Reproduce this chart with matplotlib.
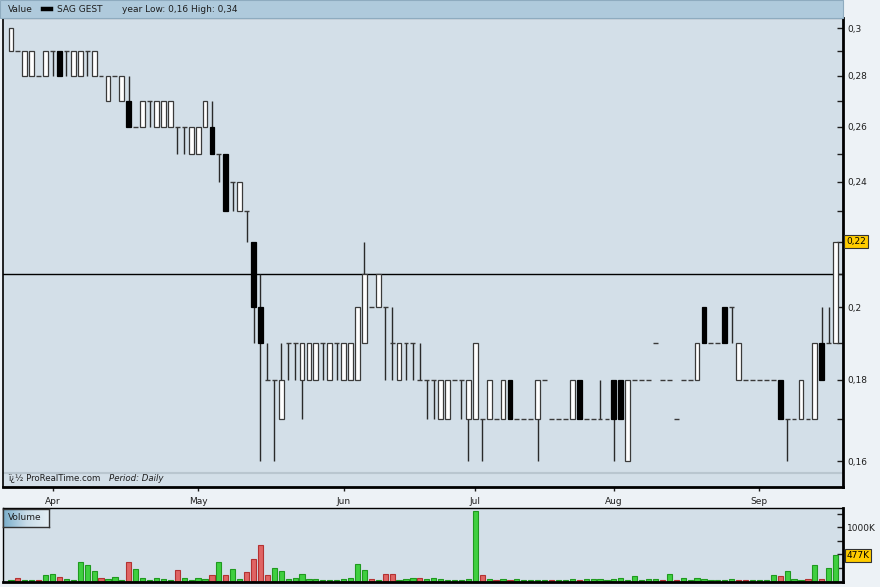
import numpy as np
import matplotlib.pyplot as plt
from matplotlib.patches import Rectangle
from matplotlib.lines import Line2D
from matplotlib.colors import LinearSegmentedColormap
import matplotlib.transforms as mtransforms

plt.rcParams['font.family'] = ['DejaVu Sans']

# daily candles, one row per session (open, high, low, close)
opens = [0.29, 0.29, 0.28, 0.28, 0.28, 0.28, 0.29, 0.29, 0.29, 0.28,
         0.28, 0.29, 0.28, 0.28, 0.27, 0.28, 0.27, 0.27, 0.26, 0.26,
         0.27, 0.26, 0.26, 0.26, 0.26, 0.26, 0.25, 0.25, 0.26, 0.26,
         0.25, 0.25, 0.24, 0.23, 0.23, 0.22, 0.20, 0.18, 0.18, 0.17,
         0.19, 0.19, 0.18, 0.18, 0.18, 0.19, 0.18, 0.19, 0.18, 0.18,
         0.18, 0.19, 0.20, 0.20, 0.20, 0.19, 0.18, 0.19, 0.19, 0.18,
         0.18, 0.18, 0.17, 0.17, 0.18, 0.18, 0.17, 0.17, 0.17, 0.17,
         0.17, 0.17, 0.18, 0.17, 0.17, 0.17, 0.17, 0.18, 0.17, 0.17,
         0.17, 0.17, 0.18, 0.17, 0.17, 0.17, 0.17, 0.18, 0.18, 0.16,
         0.18, 0.18, 0.18, 0.19, 0.18, 0.18, 0.17, 0.18, 0.18, 0.18,
         0.20, 0.19, 0.19, 0.20, 0.20, 0.18, 0.18, 0.18, 0.18, 0.18,
         0.18, 0.18, 0.17, 0.17, 0.17, 0.17, 0.17, 0.19, 0.19, 0.19]
highs = [0.30, 0.29, 0.29, 0.29, 0.28, 0.29, 0.29, 0.29, 0.29, 0.29,
         0.29, 0.29, 0.29, 0.28, 0.28, 0.28, 0.28, 0.28, 0.26, 0.27,
         0.27, 0.27, 0.27, 0.27, 0.26, 0.26, 0.26, 0.26, 0.27, 0.27,
         0.25, 0.25, 0.24, 0.24, 0.23, 0.22, 0.21, 0.19, 0.18, 0.19,
         0.19, 0.19, 0.19, 0.19, 0.19, 0.19, 0.19, 0.19, 0.19, 0.19,
         0.20, 0.22, 0.20, 0.21, 0.20, 0.20, 0.19, 0.19, 0.19, 0.19,
         0.18, 0.18, 0.18, 0.18, 0.18, 0.18, 0.18, 0.19, 0.17, 0.18,
         0.17, 0.18, 0.18, 0.17, 0.17, 0.17, 0.18, 0.18, 0.17, 0.17,
         0.17, 0.18, 0.18, 0.17, 0.17, 0.18, 0.17, 0.18, 0.18, 0.18,
         0.18, 0.18, 0.18, 0.19, 0.18, 0.18, 0.17, 0.18, 0.18, 0.19,
         0.20, 0.19, 0.19, 0.20, 0.20, 0.19, 0.18, 0.18, 0.18, 0.18,
         0.18, 0.18, 0.17, 0.17, 0.18, 0.17, 0.19, 0.20, 0.20, 0.22]
lows = [0.29, 0.29, 0.28, 0.28, 0.28, 0.28, 0.28, 0.28, 0.28, 0.28,
        0.28, 0.28, 0.28, 0.28, 0.27, 0.28, 0.27, 0.26, 0.26, 0.26,
        0.26, 0.26, 0.26, 0.26, 0.25, 0.25, 0.25, 0.25, 0.26, 0.25,
        0.24, 0.23, 0.23, 0.23, 0.22, 0.19, 0.16, 0.18, 0.16, 0.17,
        0.18, 0.18, 0.17, 0.18, 0.18, 0.18, 0.18, 0.18, 0.18, 0.18,
        0.18, 0.19, 0.20, 0.20, 0.18, 0.18, 0.18, 0.18, 0.18, 0.18,
        0.17, 0.17, 0.17, 0.17, 0.18, 0.17, 0.16, 0.17, 0.16, 0.17,
        0.17, 0.17, 0.17, 0.17, 0.17, 0.17, 0.16, 0.18, 0.17, 0.17,
        0.17, 0.17, 0.17, 0.17, 0.17, 0.17, 0.17, 0.16, 0.17, 0.16,
        0.18, 0.18, 0.18, 0.19, 0.18, 0.18, 0.17, 0.18, 0.18, 0.18,
        0.19, 0.19, 0.19, 0.19, 0.19, 0.18, 0.18, 0.18, 0.18, 0.18,
        0.18, 0.17, 0.16, 0.17, 0.17, 0.17, 0.17, 0.18, 0.19, 0.19]
closes = [0.30, 0.29, 0.29, 0.29, 0.28, 0.29, 0.29, 0.28, 0.29, 0.29,
          0.29, 0.29, 0.29, 0.28, 0.28, 0.28, 0.28, 0.26, 0.26, 0.27,
          0.27, 0.27, 0.27, 0.27, 0.26, 0.26, 0.26, 0.26, 0.27, 0.25,
          0.25, 0.23, 0.24, 0.24, 0.23, 0.20, 0.19, 0.18, 0.18, 0.18,
          0.19, 0.19, 0.19, 0.19, 0.19, 0.19, 0.19, 0.19, 0.19, 0.19,
          0.20, 0.21, 0.20, 0.21, 0.20, 0.19, 0.19, 0.19, 0.19, 0.18,
          0.18, 0.18, 0.18, 0.18, 0.18, 0.18, 0.18, 0.19, 0.17, 0.18,
          0.17, 0.18, 0.17, 0.17, 0.17, 0.17, 0.18, 0.18, 0.17, 0.17,
          0.17, 0.18, 0.17, 0.17, 0.17, 0.17, 0.17, 0.17, 0.17, 0.18,
          0.18, 0.18, 0.18, 0.19, 0.18, 0.18, 0.17, 0.18, 0.18, 0.19,
          0.19, 0.19, 0.19, 0.19, 0.20, 0.19, 0.18, 0.18, 0.18, 0.18,
          0.18, 0.17, 0.17, 0.17, 0.18, 0.17, 0.19, 0.18, 0.19, 0.22]
# volume in thousands of shares
volumes = [20, 55, 30, 20, 20, 123, 142, 86, 50, 20,
           358, 302, 197, 55, 37, 74, 20, 358, 222, 55,
           20, 55, 37, 20, 204, 55, 20, 55, 37, 123,
           358, 123, 234, 37, 167, 420, 666, 123, 253, 185,
           37, 55, 142, 37, 37, 20, 20, 20, 37, 55,
           327, 204, 37, 20, 142, 142, 20, 37, 55, 55,
           37, 55, 37, 20, 20, 20, 50, 1296, 123, 50,
           20, 37, 20, 37, 20, 20, 20, 20, 20, 20,
           20, 37, 20, 37, 37, 37, 20, 37, 68, 20,
           105, 20, 37, 50, 20, 142, 20, 68, 20, 68,
           50, 20, 20, 20, 37, 20, 20, 20, 20, 20,
           123, 105, 185, 50, 20, 50, 302, 37, 253, 477]

month_labels = ['Apr', 'May', 'Jun', 'Jul', 'Aug', 'Sep']
month_pos = [6, 27, 48, 67, 87, 108]
price_ticks = [0.16, 0.17, 0.18, 0.19, 0.20, 0.21, 0.22, 0.23, 0.24,
               0.25, 0.26, 0.27, 0.28, 0.29, 0.30]
price_labels = {0.16: '0,16', 0.18: '0,18', 0.20: '0,2', 0.24: '0,24',
                0.26: '0,26', 0.28: '0,28', 0.30: '0,3'}
vol_ticks = [250, 500, 750, 1000, 1250]
ref_line = 0.21
last_price = 0.22
last_volume = 477

W, H = 880, 587
def fx(px):
    return px / W
def fy(py):
    return 1 - py / H

fig = plt.figure(figsize=(8.8, 5.87), dpi=100, facecolor='#edf2f6')
panel_bg = '#d3dfe8'

# header strip
fig.patches.append(Rectangle((0, fy(18)), fx(843), 18 / H, transform=fig.transFigure,
                             facecolor='#afcadc', edgecolor='#8eabbf', lw=0.8, zorder=0))
fig.text(fx(8), fy(9), 'Value', fontsize=6.5, va='center', color='#1e1e1e')
fig.add_artist(Line2D([fx(43), fx(51)], [fy(9), fy(9)], lw=3.2, color='black'))
fig.text(fx(57), fy(9), 'SAG GEST', fontsize=6.5, va='center', color='#1e1e1e')
fig.text(fx(122), fy(9), 'year Low: 0,16 High: 0,34', fontsize=6.5, va='center', color='#1e1e1e')

x = np.arange(len(opens))
o = np.array(opens); h = np.array(highs); l = np.array(lows); c = np.array(closes)

# ---- price panel
ax = fig.add_axes([fx(3), fy(487), fx(843) - fx(3), (487 - 18) / H])
ax.set_facecolor(panel_bg)
ax.set_yscale('log')
ax.set_xlim(-1.15, 120.06)
ax.set_ylim(0.1541, 0.3044)

ax.axhline(ref_line, color='black', lw=1, zorder=1)
ax.vlines(x, l, h, colors='#2a2a2a', lw=1, zorder=2)
body_w = 0.7
up = c > o
down = c < o
flat = c == o
ax.bar(x[up], c[up] - o[up], bottom=o[up], width=body_w, color='white',
       edgecolor='#3a3a3a', lw=0.9, zorder=3)
ax.bar(x[down], o[down] - c[down], bottom=c[down], width=body_w, color='black',
       edgecolor='black', lw=0.9, zorder=3)
ax.hlines(o[flat], x[flat] - body_w / 2, x[flat] + body_w / 2, colors='#3a3a3a', lw=1, zorder=3)

ax.plot([0, 1], [0.03, 0.03], transform=ax.transAxes, color='#b9c6cf', lw=1.5)
ax.text(0.006, 0.013, 'ï¿½ ProRealTime.com', transform=ax.transAxes, fontsize=6.2, color='#1e1e1e')
ax.text(0.1265, 0.013, 'Period: Daily', transform=ax.transAxes, fontsize=6.2,
        style='italic', color='#1e1e1e')

ax.yaxis.tick_right()
ax.set_yticks(price_ticks)
ax.set_yticklabels([price_labels.get(round(t, 2), '') for t in price_ticks])
ax.yaxis.set_minor_locator(plt.NullLocator())
ax.tick_params(axis='y', direction='in', length=4, width=1, pad=3, labelsize=6.5, colors='#1e1e1e')
ax.set_xticks(month_pos)
ax.set_xticklabels(month_labels)
ax.tick_params(axis='x', direction='out', length=3, width=1, pad=4, labelsize=6.5, colors='#1e1e1e')
for side, lw in [('right', 2), ('bottom', 2), ('left', 1.2), ('top', 0.8)]:
    ax.spines[side].set_linewidth(lw)
    ax.spines[side].set_color('black')

tr = mtransforms.blended_transform_factory(ax.transAxes, ax.transData)
ax.text(1.004, last_price, '0,22', transform=tr, fontsize=6.5, va='center', ha='left',
        bbox=dict(boxstyle='square,pad=0.25', fc='#ffcc00', ec='#333333', lw=0.8))

# ---- volume panel
vax = fig.add_axes([fx(3), fy(582), fx(843) - fx(3), (582 - 508) / H])
vax.set_facecolor(panel_bg)
vax.set_xlim(ax.get_xlim())
vax.set_ylim(-12, 1352)
prev = np.concatenate([[c[0]], c[:-1]])
vcol = np.where(c < prev, '#e06464', '#3fcf3f')
vedge = np.where(c < prev, '#b43232', '#1f9a1f')
vax.bar(x, volumes, width=0.75, color=vcol, edgecolor=vedge, lw=0.8, zorder=2)
vax.set_xticks([])
vax.yaxis.tick_right()
vax.set_yticks(vol_ticks)
vax.set_yticklabels(['1000K' if t == 1000 else '' for t in vol_ticks])
vax.tick_params(axis='y', direction='in', length=4, width=1, pad=3, labelsize=6.5, colors='#1e1e1e')
for side, lw in [('right', 2), ('bottom', 2), ('left', 1), ('top', 1)]:
    vax.spines[side].set_linewidth(lw)
    vax.spines[side].set_color('black')
trv = mtransforms.blended_transform_factory(vax.transAxes, vax.transData)
vax.text(1.004, last_volume, '477K', transform=trv, fontsize=6.5, va='center', ha='left',
         bbox=dict(boxstyle='square,pad=0.2', fc='#ffcc00', ec='#333333', lw=0.8))

# "Volume" tag with gradient
tag = fig.add_axes([fx(3), fy(527), fx(49) - fx(3), (527 - 509) / H])
cmap = LinearSegmentedColormap.from_list('tag', ['#7aaecb', '#c9dde9', '#e4eef4'])
tag.imshow(np.linspace(0, 1, 64).reshape(1, -1), aspect='auto', cmap=cmap, extent=[0, 1, 0, 1])
tag.set_xticks([]); tag.set_yticks([])
for s in tag.spines.values():
    s.set_color('#333333'); s.set_linewidth(1)
tag.text(0.1, 0.5, 'Volume', fontsize=6.5, va='center', color='#1e1e1e')

fig.savefig('out.png', dpi=100, facecolor=fig.get_facecolor())
